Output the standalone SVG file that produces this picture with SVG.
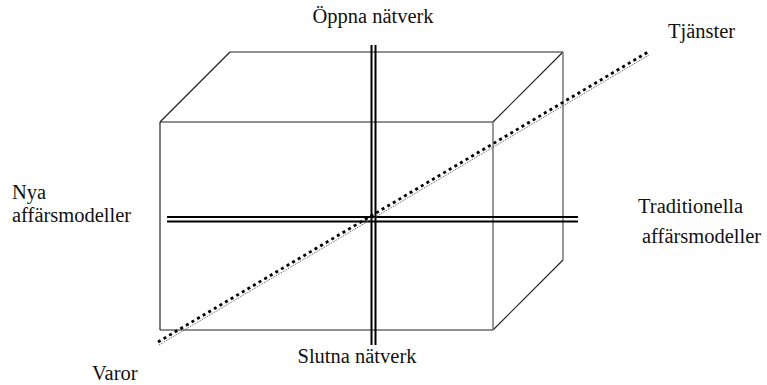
<svg xmlns="http://www.w3.org/2000/svg" width="767" height="385" viewBox="0 0 767 385">
<style>
text{font-family:"Liberation Serif","Times New Roman",serif;font-size:20.5px;fill:#111}
.edge{fill:none;stroke:#222;stroke-width:1.2}
.grey{fill:none;stroke:#777;stroke-width:1.5}
.axis{stroke:#000;stroke-width:2}
</style>
<rect width="767" height="385" fill="#fff"/>
<g id="box">
<line class="edge" x1="230" y1="52" x2="563" y2="52"/>
<line class="edge" x1="160" y1="122" x2="230" y2="52"/>
<line class="edge" x1="493" y1="122" x2="563" y2="52"/>
<line class="edge" x1="493" y1="330" x2="563" y2="260"/>
<line class="grey" x1="563" y1="52" x2="563" y2="260"/>
<line class="edge" x1="160" y1="122" x2="493" y2="122"/>
<line class="edge" x1="160" y1="122" x2="160" y2="330"/>
<line class="edge" x1="160" y1="330" x2="493" y2="330"/>
<line class="grey" x1="493" y1="122" x2="493" y2="330"/>
</g>
<g id="connectors">
<line class="axis" x1="371.5" y1="45" x2="371.5" y2="345"/>
<line class="axis" x1="375.5" y1="45" x2="375.5" y2="345"/>
<line class="axis" x1="167" y1="217" x2="578" y2="217"/>
<line class="axis" x1="167" y1="221.5" x2="578" y2="221.5"/>
<line x1="159" y1="345" x2="649" y2="55" stroke="#555" stroke-width="1" stroke-dasharray="1 1"/>
<line x1="158" y1="342" x2="648" y2="52" stroke="#000" stroke-width="2.8" stroke-dasharray="3 3.5"/>
</g>
<g id="labels">
<text x="373" y="23" text-anchor="middle">Öppna nätverk</text>
<text x="357" y="363" text-anchor="middle">Slutna nätverk</text>
<text x="668" y="38">Tjänster</text>
<text x="92" y="380">Varor</text>
<text x="12" y="199">Nya</text>
<text x="12" y="222">affärsmodeller</text>
<text x="638" y="213">Traditionella</text>
<text x="642" y="243">affärsmodeller</text>
</g>
</svg>
